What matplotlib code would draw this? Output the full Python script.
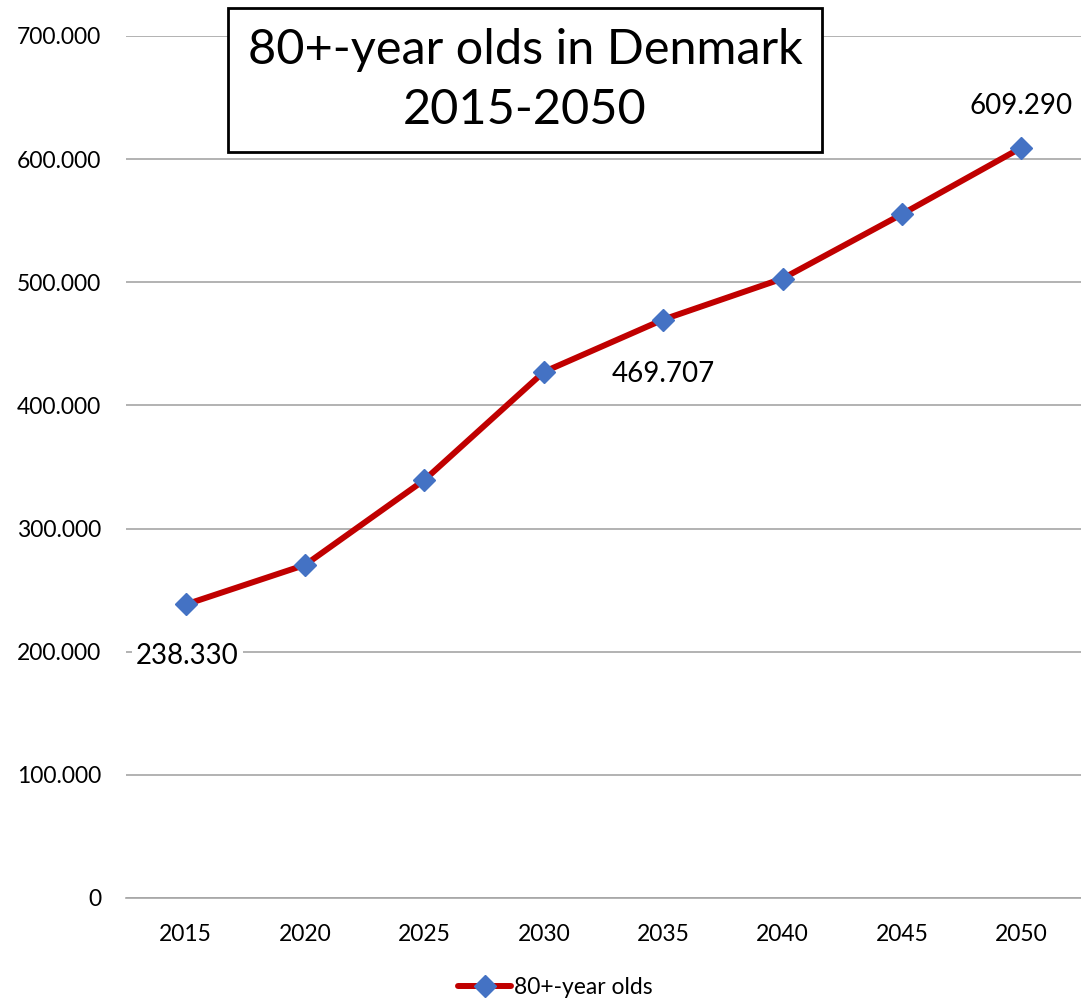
import matplotlib
matplotlib.use("Agg")
import matplotlib.pyplot as plt
from matplotlib.ticker import FuncFormatter

plt.rcParams['font.family'] = ['Lato', 'DejaVu Sans']

years = ['2015', '2020', '2025', '2030', '2035', '2040', '2045', '2050']
values = [238330, 270500, 339500, 427200, 469707, 503000, 555300, 609290]
labeled = {0: '238.330', 4: '469.707', 7: '609.290'}
yticks = [0, 100000, 200000, 300000, 400000, 500000, 600000, 700000]

fig = plt.figure(figsize=(10.81, 10.02), dpi=100)
ax = fig.add_axes([0.1166, 0.1038, 0.8834, 0.8603])

x = list(range(len(years)))
ax.plot(x, values, color='#C00000', lw=4.3, marker='D', markersize=11,
        markerfacecolor='#4472C4', markeredgecolor='#4472C4', label='80+-year olds',
        zorder=3, solid_capstyle='round')

ax.set_xlim(-0.5, len(years) - 0.5)
ax.set_ylim(0, 700000)
ax.set_yticks(yticks)
ax.yaxis.set_major_formatter(FuncFormatter(lambda v, p: '0' if v == 0 else f'{int(v):,}'.replace(',', '.')))
ax.set_xticks(x)
ax.set_xticklabels(years)
ax.grid(axis='y', color='#A6A6A6', lw=1.2)
ax.set_axisbelow(True)
for s in ['top', 'right', 'left']:
    ax.spines[s].set_visible(False)
ax.spines['bottom'].set_color('#A6A6A6')
ax.spines['bottom'].set_linewidth(1.2)
ax.tick_params(axis='both', length=0, labelsize=16.5, colors='black')
ax.tick_params(axis='y', pad=18)
ax.tick_params(axis='x', pad=19)

# data labels
ax.annotate(labeled[0], (0, values[0]), xytext=(1, -37), textcoords='offset points',
            ha='center', va='center', fontsize=20,
            bbox=dict(boxstyle='square,pad=0.15', fc='white', ec='none'))
ax.annotate(labeled[4], (4, values[4]), xytext=(0, -39), textcoords='offset points',
            ha='center', va='center', fontsize=20)
ax.annotate(labeled[7], (7, values[7]), xytext=(0, 30), textcoords='offset points',
            ha='center', va='center', fontsize=20)

# title box
fig.text(0.4857, 0.9202, '80+-year olds in Denmark\n2015-2050', ha='center', va='center',
         fontsize=35, linespacing=1.45,
         bbox=dict(boxstyle='square,pad=0.4', fc='white', ec='black', lw=2))

leg = fig.legend(loc='center', bbox_to_anchor=(0.514, 0.014), frameon=False, fontsize=16.5,
                 handlelength=2.3, handletextpad=0.15)

fig.savefig('out.png', dpi=100)
